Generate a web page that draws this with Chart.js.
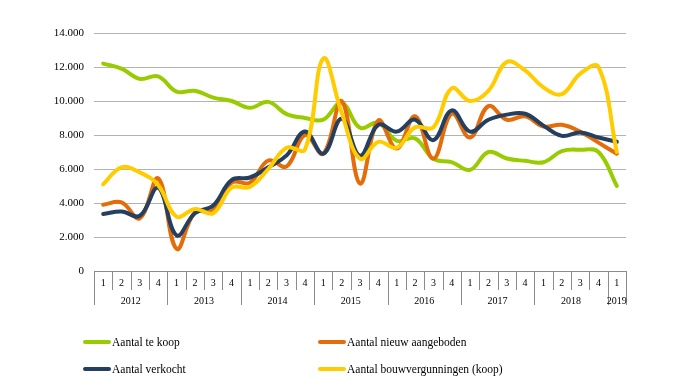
<!DOCTYPE html>
<html>
<head>
<meta charset="utf-8">
<script src="https://cdn.jsdelivr.net/npm/chart.js@4/dist/chart.umd.min.js"></script>
<style>
  html, body { margin: 0; padding: 0; background: #fff; }
  #wrap { position: relative; width: 692px; height: 389px; }
  #legend { position: absolute; left: 0; top: 0; width: 692px; height: 389px; pointer-events: none; }
  .item { position: absolute; display: flex; align-items: center;
          font-family: "Liberation Serif", "DejaVu Serif", serif; font-size: 11.5px; color: #000; }
  .swatch { width: 28px; height: 4px; border-radius: 2px; margin-right: 1px; }
</style>
</head>
<body>
<div id="wrap">
  <canvas id="chart"></canvas>
  <div id="legend"></div>
</div>
<script>
// Quarter and year labels (2012 Q1 .. 2019 Q1)
const quarters = ['1','2','3','4','1','2','3','4','1','2','3','4','1','2','3','4',
                  '1','2','3','4','1','2','3','4','1','2','3','4','1'];
const years = ['2012','2012','2012','2012','2013','2013','2013','2013',
               '2014','2014','2014','2014','2015','2015','2015','2015',
               '2016','2016','2016','2016','2017','2017','2017','2017',
               '2018','2018','2018','2018','2019'];

const teKoop = [12200, 11900, 11300, 11450, 10550, 10600, 10200, 10000,
                9600, 9950, 9230, 9000, 8900, 9900, 8420, 8720,
                7660, 7800, 6600, 6400, 5950, 7000, 6620, 6480,
                6400, 7050, 7130, 7000, 5000];
const nieuwAangeboden = [3900, 4030, 3100, 5450, 1300, 3450, 3550, 5200,
                         5200, 6500, 6150, 8000, 6900, 10000, 5150, 8850,
                         7200, 9100, 6600, 9250, 7850, 9700, 8900, 9100,
                         8500, 8600, 8200, 7550, 6900];
const verkocht = [3350, 3500, 3250, 4900, 2100, 3400, 3850, 5350,
                  5500, 6100, 6800, 8200, 6900, 8950, 6780, 8600,
                  8200, 8900, 7700, 9450, 8200, 8900, 9200, 9250,
                  8550, 7950, 8150, 7850, 7600];
const bouwvergunningen = [5100, 6100, 5800, 5050, 3200, 3650, 3400, 4900,
                          4950, 6000, 7250, 7150, 12500, 9300, 6600, 7600,
                          7250, 8450, 8450, 10750, 10000, 10600, 12300, 11800,
                          10800, 10400, 11600, 12000, 7000];

const yTicks = [0, 2000, 4000, 6000, 8000, 10000, 12000, 14000];

const serif = '"Liberation Serif", "DejaVu Serif", serif';

function fmt(v) {
  return v.toString().replace(/\B(?=(\d{3})+(?!\d))/g, '.');
}

// draws the quarter / year table under the plot
const tableAxis = {
  id: 'tableAxis',
  afterDraw(chart) {
    const ctx = chart.ctx;
    const x = chart.scales.x;
    const top = chart.chartArea.bottom;
    ctx.save();
    ctx.strokeStyle = '#8c8c8c';
    ctx.lineWidth = 1;
    ctx.beginPath();
    ctx.moveTo(x.getPixelForValue(-0.5), top + 0.5);
    ctx.lineTo(x.getPixelForValue(quarters.length - 0.5), top + 0.5);
    for (let i = 0; i <= quarters.length; i++) {
      const px = Math.round(x.getPixelForValue(i - 0.5)) + 0.5;
      const yearEdge = i === 0 || i === quarters.length || years[i] !== years[i - 1];
      ctx.moveTo(px, top);
      ctx.lineTo(px, top + (yearEdge ? 34 : 19));
    }
    ctx.stroke();

    ctx.fillStyle = '#000';
    ctx.font = '10px ' + serif;
    ctx.textAlign = 'center';
    ctx.textBaseline = 'middle';
    for (let i = 0; i < quarters.length; i++) {
      ctx.fillText(quarters[i], x.getPixelForValue(i), top + 12);
    }
    let start = 0;
    for (let i = 1; i <= years.length; i++) {
      if (i === years.length || years[i] !== years[start]) {
        const cx = (x.getPixelForValue(start - 0.5) + x.getPixelForValue(i - 0.5)) / 2;
        ctx.fillText(years[start], cx, top + 30);
        start = i;
      }
    }
    ctx.restore();
  }
};

const datasets = [
  { label: 'Aantal te koop', data: teKoop, borderColor: '#99CC00', order: 4 },
  { label: 'Aantal nieuw aangeboden', data: nieuwAangeboden, borderColor: '#E46C0A', order: 3 },
  { label: 'Aantal verkocht', data: verkocht, borderColor: '#243F60', order: 2 },
  { label: 'Aantal bouwvergunningen (koop)', data: bouwvergunningen, borderColor: '#FFCC00', order: 1 }
];
datasets.forEach(d => {
  d.borderWidth = 4;
  d.pointRadius = 0;
  d.tension = 0.4;
  d.fill = false;
  d.borderCapStyle = 'round';
  d.borderJoinStyle = 'round';
});

new Chart(document.getElementById('chart'), {
  type: 'line',
  data: { labels: quarters, datasets: datasets },
  options: {
    responsive: true,
    maintainAspectRatio: false,
    animation: false,
    layout: { padding: { top: 33, right: 66, bottom: 0, left: 0 } },
    plugins: { legend: { display: false }, tooltip: { enabled: false } },
    scales: {
      x: {
        offset: true,
        grid: { display: false },
        border: { display: false },
        ticks: { display: false },
        afterFit(scale) { scale.height = 118; }
      },
      y: {
        min: 0,
        max: 14000,
        afterBuildTicks(scale) { scale.ticks = yTicks.map(v => ({ value: v })); },
        grid: { color: '#b3b3b3', drawTicks: false },
        border: { display: false },
        ticks: { color: '#000', font: { family: serif, size: 11 }, padding: 10,
                 callback: v => fmt(v) },
        afterFit(scale) { scale.width = 94; }
      }
    }
  },
  plugins: [tableAxis]
});

// legend in two columns below the chart
const legendPos = [[83, 342], [318, 342], [83, 369], [318, 369]];
const legend = document.getElementById('legend');
datasets.forEach((d, i) => {
  const item = document.createElement('div');
  item.className = 'item';
  item.style.left = legendPos[i][0] + 'px';
  item.style.top = (legendPos[i][1] - 8) + 'px';
  item.style.height = '16px';
  item.innerHTML = '<span class="swatch" style="background:' + d.borderColor + '"></span>' + d.label;
  legend.appendChild(item);
});
</script>
</body>
</html>
